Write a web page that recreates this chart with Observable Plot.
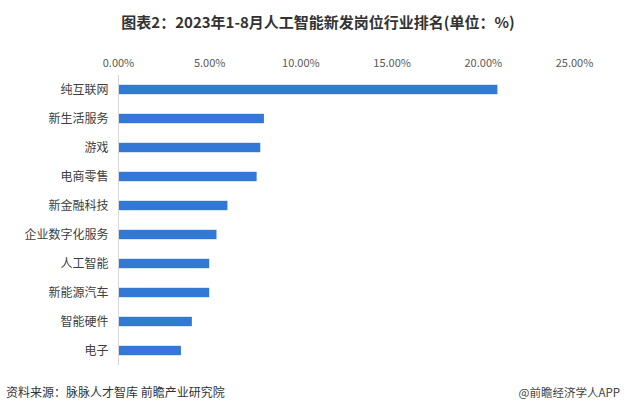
<!DOCTYPE html>
<html>
<head>
<meta charset="utf-8">
<script src="https://cdn.jsdelivr.net/npm/d3@7"></script>
<script src="https://cdn.jsdelivr.net/npm/@observablehq/plot@0.6"></script>
<style>
  html, body { margin: 0; padding: 0; background: #fff; }
  body { width: 628px; height: 412px; position: relative; overflow: hidden; font-family: "Noto Sans CJK SC", "Noto Sans", sans-serif; }
  #title { height: 44px; line-height: 44px; text-align: center; font-size: 15px; font-weight: bold; color: #333; padding-left: 8px; }
  #footer { position: absolute; left: 0; right: 0; top: 380px; height: 32px; font-size: 12px; color: #333; }
  #src { position: absolute; left: 6px; top: 3px; }
  #app { position: absolute; right: 8px; top: 4px; font-size: 11.5px; color: #444; }
  svg { display: block; }
</style>
</head>
<body>
<div id="title">图表2：2023年1-8月人工智能新发岗位行业排名(单位：%)</div>
<div id="chart"></div>
<div id="footer"><span id="src">资料来源：脉脉人才智库 前瞻产业研究院</span><span id="app">@前瞻经济学人APP</span></div>
<script>
const categories = ["纯互联网", "新生活服务", "游戏", "电商零售", "新金融科技", "企业数字化服务", "人工智能", "新能源汽车", "智能硬件", "电子"];
const values = [20.8, 8.0, 7.8, 7.6, 6.0, 5.4, 5.0, 5.0, 4.05, 3.45];
const xTicks = [0, 5, 10, 15, 20, 25];

const data = categories.map((c, i) => ({category: c, value: values[i]}));

const chart = Plot.plot({
  width: 628,
  height: 336,
  marginLeft: 118,
  marginRight: 54,
  marginTop: 31,
  marginBottom: 15,
  style: {fontFamily: "'Noto Sans CJK SC', 'Noto Sans', sans-serif", background: "transparent"},
  x: {domain: [0, 25]},
  y: {domain: categories, padding: 0},
  marks: [
    Plot.barX(data, {x: "value", y: "category", fill: "#3478d6", insetTop: 9.8, insetBottom: 9.8}),
    Plot.ruleX([0], {stroke: "#d6d6d6", strokeWidth: 1}),
    Plot.axisX({anchor: "top", ticks: xTicks, tickSize: 0, tickPadding: 9, tickFormat: d => d.toFixed(2) + "%", fontSize: 11, fill: "#595959", fontWeight: "normal", label: null}),
    Plot.axisY({anchor: "left", tickSize: 0, tickPadding: 10, fontSize: 12, fill: "#404040", fontWeight: "normal", label: null})
  ]
});
document.getElementById("chart").appendChild(chart);
</script>
</body>
</html>
